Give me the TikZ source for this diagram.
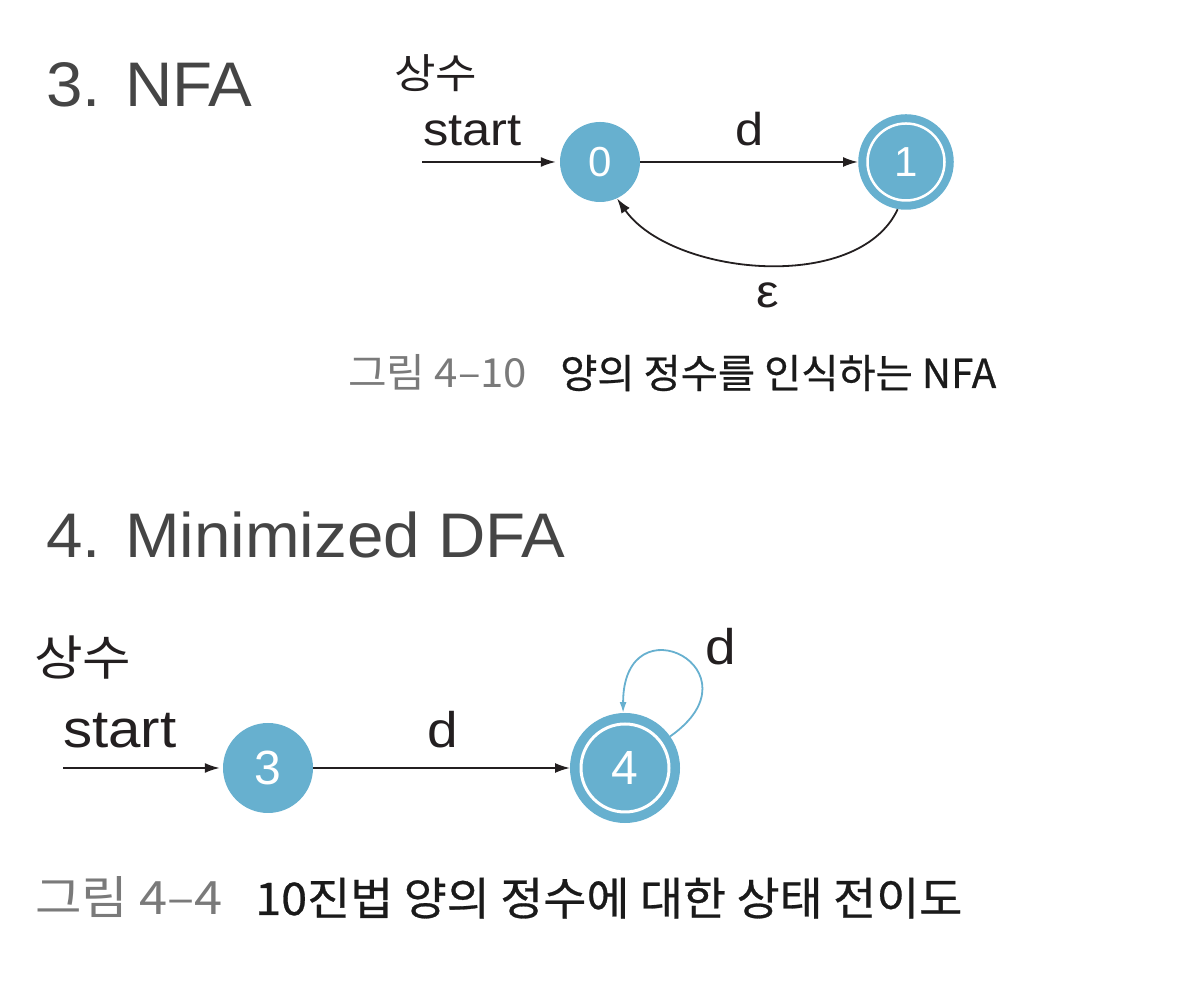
\documentclass[tikz,border=0pt]{standalone}
\usepackage{fontspec}
\setmainfont{Liberation Sans}
\newfontfamily\titlefont[FakeStretch=1.04]{Liberation Sans}
\newfontfamily\lblfont[FakeStretch=1.1]{Liberation Sans}
\newfontfamily\krfont[FakeStretch=1.1]{Noto Sans CJK KR}
\newfontfamily\capfont[FakeStretch=1.04,FakeBold=0.6]{Noto Sans CJK KR}
\newfontfamily\capfontb[FakeStretch=1.01,FakeBold=0.6]{Noto Sans CJK KR}
\newfontfamily\capgfont[FakeStretch=1.1]{Noto Sans CJK KR}
\newfontfamily\capgfontb[FakeStretch=1.05]{Noto Sans CJK KR}
\usetikzlibrary{arrows.meta}
\definecolor{stblue}{HTML}{67B0CF}
\definecolor{titlegray}{HTML}{454545}
\definecolor{capgray}{HTML}{7A7A7A}
\definecolor{capblack}{HTML}{1A1A1A}
\definecolor{ink}{HTML}{231F20}
\tikzset{
  title/.style={anchor=base west, inner sep=0pt, text=titlegray, font=\titlefont\fontsize{63}{70}\selectfont},
  lbl/.style={inner sep=0pt, text=ink},
  state/.style={circle, fill=stblue, inner sep=0pt, text=white},
  accept/.style={state, draw=stblue, double=white},
  arr/.style={draw=ink, line width=1.8pt, -{Latex[length=15pt,width=10pt]}},
  looparr/.style={draw=stblue, line width=1.8pt, -{Latex[length=11pt,width=7pt]}},
  capg/.style={anchor=base west, inner sep=0pt, text=capgray},
  capb/.style={anchor=base west, inner sep=0pt, text=capblack}
}
\begin{document}
\begin{tikzpicture}[x=1pt,y=1pt]
\useasboundingbox (0,0) rectangle (1188,1000);
% titles
\node[title] (t1) at (46,893) {3. NFA};
\node[title] (t2) at (46,442) {4. Minimized DFA};
% upper diagram
\node[lbl, anchor=base west, font=\krfont\fontsize{41}{46}\selectfont] (k1) at (394,911) {상수};
\node[lbl, anchor=base west, font=\lblfont\fontsize{46}{50}\selectfont] (st1) at (423,854) {start};
\node[state, minimum size=80pt, font=\fontsize{42}{46}\selectfont] (s0) at (600,838) {0};
\node[accept, minimum size=77pt, line width=8pt, double distance=2.5pt, outer sep=9.5pt, font=\fontsize{42}{46}\selectfont] (s1) at (906,838) {1};
\coordinate (in0) at (422,838);
\draw[arr, shorten >=4pt] (in0) -- (s0);
\draw[arr] (s0) -- (s1);
\node[lbl, anchor=base, font=\lblfont\fontsize{46}{50}\selectfont] (d1) at (750,854) {d};
\draw[arr] (s1.-100) .. controls +(-115:94) and +(-55:94) .. (s0.-65);
\node[lbl, anchor=base, font=\lblfont\fontsize{46}{50}\selectfont] (eps) at (768,692) {ε};
% caption 1
\node[capg, font=\capgfontb\fontsize{40}{44}\selectfont] (c1a) at (348,612) {그림 4–10};
\node[capb, font=\capfontb\fontsize{40}{44}\selectfont] (c1b) at (560,612) {양의 정수를 인식하는 NFA};
% lower diagram
\node[lbl, anchor=base west, font=\krfont\fontsize{48}{52}\selectfont] (k2) at (34,324) {상수};
\node[lbl, anchor=base west, font=\lblfont\fontsize{53}{58}\selectfont] (st2) at (63,252) {start};
\node[state, minimum size=90pt, font=\fontsize{48}{52}\selectfont] (s3) at (268,232) {3};
\node[accept, minimum size=88pt, line width=9.5pt, double distance=3pt, outer sep=11pt, font=\fontsize{48}{52}\selectfont] (s4) at (625,232) {4};
\coordinate (in3) at (63,232);
\draw[arr, shorten >=3pt] (in3) -- (s3);
\draw[arr] (s3) -- (s4);
\node[lbl, anchor=base, font=\lblfont\fontsize{50}{54}\selectfont] (d2) at (443,252) {d};
\draw[looparr] (s4.35) .. controls +(35:115) and +(90:115) .. (s4.92);
\node[lbl, anchor=base, font=\lblfont\fontsize{50}{54}\selectfont] (d3) at (721,335) {d};
% caption 2
\node[capg, font=\capgfont\fontsize{46}{50}\selectfont] (c2a) at (35,85) {그림 4–4};
\node[capb, font=\capfont\fontsize{45}{50}\selectfont] (c2b) at (255,85) {10진법 양의 정수에 대한 상태 전이도};
\end{tikzpicture}
\end{document}
